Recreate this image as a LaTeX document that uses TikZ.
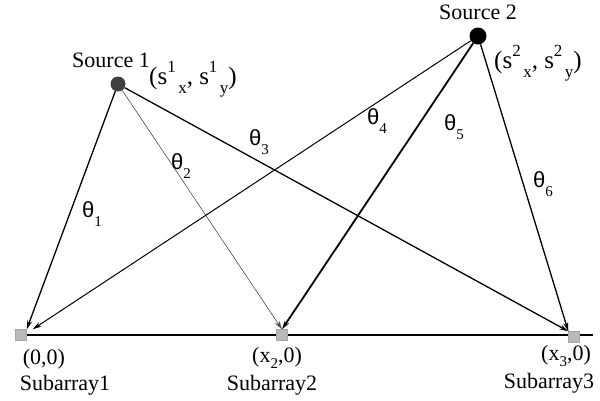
\documentclass[tikz,border=0pt]{standalone}
\usepackage{fontspec}
\setmainfont{Liberation Serif}
\newfontfamily\thfont{Liberation Sans}
\usetikzlibrary{arrows.meta}
\newcommand{\ssub}[2]{\raisebox{0.5em}{\fontsize{17}{17}\selectfont #1}\hspace{0.1em}\raisebox{-0.35em}{\fontsize{17}{17}\selectfont #2}}
\newcommand{\thl}[1]{{\thfont θ}\raisebox{-0.4em}{\fontsize{15}{15}\selectfont #1}}
\begin{document}
\begin{tikzpicture}[x=1pt,y=-1pt,
  lbl/.style={inner sep=0pt,font=\fontsize{22}{24}\selectfont},
  crd/.style={inner sep=0pt,font=\fontsize{25}{26}\selectfont},
  thlbl/.style={inner sep=0pt,font=\fontsize{22}{22}\selectfont},
  ray/.style={line width=1.3pt,-{Stealth[length=9pt,width=5pt]}},
  sq/.style={draw=gray!70,fill=gray!55,minimum size=11pt,inner sep=0pt}]
\useasboundingbox (0,0) rectangle (600,400);
% baseline
\coordinate (bl) at (20,335);
\coordinate (br) at (593,335);
\draw[line width=1.4pt] (bl) -- (br);
% subarrays
\node[sq] (a1) at (21,335) {};
\node[sq] (a2) at (282,335) {};
\node[sq] (a3) at (574,337) {};
% sources
\node[circle,fill=black!75,minimum size=15pt,inner sep=0pt] (s1) at (118,84) {};
\node[circle,fill=black,minimum size=17pt,inner sep=0pt] (s2) at (478,36) {};
% rays
\draw[ray] (s1) -- (a1.north east);
\draw[ray,line width=0.6pt,draw=black!70] (s1) -- (a2.north);
\draw[ray] (s1) -- (a3.north west);
\draw[ray,line width=1pt] (s2) -- ([xshift=6pt]a1.north east);
\draw[ray,line width=1.8pt] (s2) -- (a2.north);
\draw[ray] (s2) -- (a3.north west);
% labels
\node[lbl] (t1) at (111,60) {Source 1};
\node[crd,anchor=west] (c1) at (149,79) {(s\ssub{1}{x}, s\ssub{1}{y})};
\node[lbl] (t2) at (478,12) {Source 2};
\node[crd,anchor=west] (c2) at (494,63) {(s\ssub{2}{x}, s\ssub{2}{y})};
\node[thlbl] (th1) at (92,214) {\thl{1}};
\node[thlbl] (th2) at (181,166) {\thl{2}};
\node[thlbl] (th3) at (259,142) {\thl{3}};
\node[thlbl] (th4) at (377,121) {\thl{4}};
\node[thlbl] (th5) at (454,127) {\thl{5}};
\node[thlbl] (th6) at (543,184) {\thl{6}};
\node[lbl] (p1) at (44,359) {(0,0)};
\node[lbl] (n1) at (65,385) {Subarray1};
\node[lbl] (p2) at (277,358) {(x\raisebox{-0.25em}{\fontsize{15}{15}\selectfont 2},0)};
\node[lbl] (n2) at (272,385) {Subarray2};
\node[lbl] (p3) at (566,356) {(x\raisebox{-0.25em}{\fontsize{15}{15}\selectfont 3},0)};
\node[lbl] (n3) at (549,383) {Subarray3};
\end{tikzpicture}
\end{document}
